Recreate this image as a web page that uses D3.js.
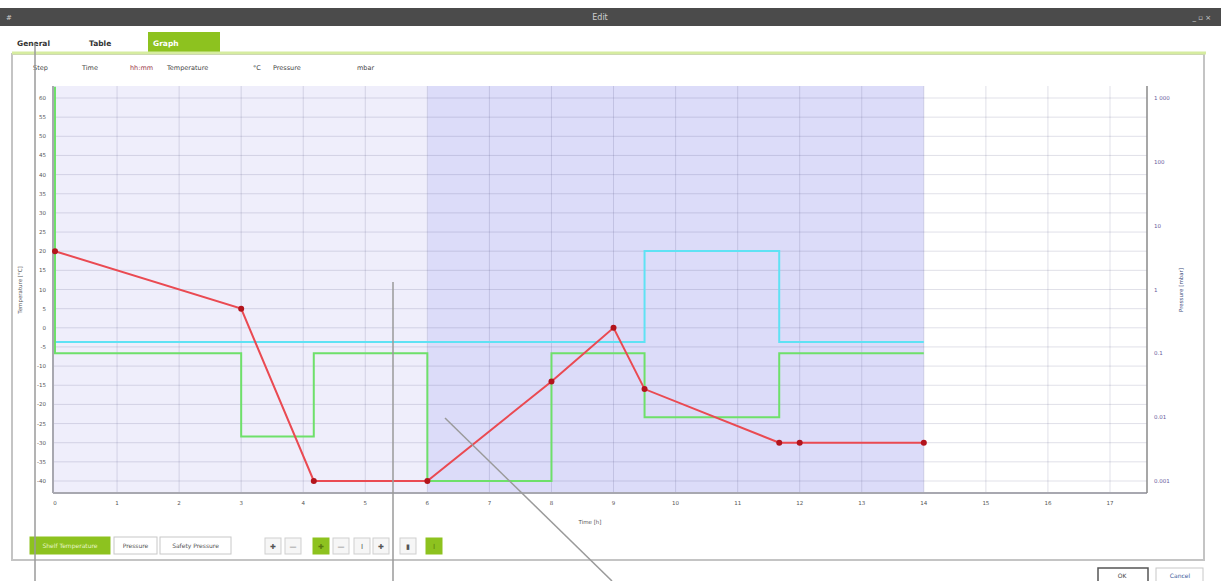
<!DOCTYPE html>
<html lang="en">
	<head>
		<meta charset="utf-8">
		<title>Edit - Graph</title>
		<script src="https://d3js.org/d3.v7.min.js"></script>
		<style type="text/css">
		body { margin: 0; background: #ffffff; }
		text { font-family: "DejaVu Sans", "Liberation Sans", sans-serif; }
		</style>
	</head>
	<body>
		<script type="text/javascript">

			//Tick values
			var hourTicks = [0, 1, 2, 3, 4, 5, 6, 7, 8, 9, 10, 11, 12, 13, 14, 15, 16, 17];
			var tempTicks = [-40, -35, -30, -25, -20, -15, -10, -5, 0, 5, 10, 15, 20, 25, 30, 35, 40, 45, 50, 55, 60];
			var pressTicks = [0.001, 0.01, 0.1, 1, 10, 100, 1000];
			var pressLabels = ["0.001", "0.01", "0.1", "1", "10", "100", "1 000"];

			//Shelf temperature (red, with points)
			var tempTimes = [0, 3, 4.17, 6, 8, 9, 9.5, 11.67, 12, 14];
			var tempValues = [20, 5, -40, -40, -14, 0, -16, -30, -30, -30];

			//Pressure (green step line)
			var pressTimes = [0, 0, 3, 4.17, 6, 8, 9.5, 11.67, 14];
			var pressValues = [1500, 0.1, 0.005, 0.1, 0.001, 0.1, 0.01, 0.1, 0.1];

			//Safety pressure (cyan step line)
			var safetyTimes = [0, 9.5, 11.67, 14];
			var safetyValues = [0.15, 4, 0.15, 0.15];

			//Shaded phases
			var phaseStart = [0, 6];
			var phaseEnd = [6, 14];
			var phaseColors = ["#efeefb", "#dcdcf9"];

			//Header row above the chart
			var headerText = ["Step", "Time", "hh:mm", "Temperature", "°C", "Pressure", "mbar"];
			var headerX = [33, 82, 130, 167, 253, 273, 357];

			var w = 1221;
			var h = 581;

			//Plot frame (window.top is reserved, so own names)
			var plotL = 53, plotR = 1147, plotT = 86, plotB = 493;

			//Scales
			var x = d3.scaleLinear().domain([0, 17]).range([55, 1110]);
			var yT = d3.scaleLinear().domain([-40, 60]).range([481, 98]);
			var yP = d3.scaleLog().domain([0.001, 1000]).range([481, 98]);

			var green = "#8dc21f";
			var labelFill = "#555555";

			var svg = d3.select("body")
						.append("svg")
						.attr("width", w)
						.attr("height", h);

			//Window title bar
			svg.append("rect").attr("x", 0).attr("y", 8).attr("width", w).attr("height", 18).style("fill", "#4b4b4b");
			svg.append("text").attr("x", 600).attr("y", 20).attr("text-anchor", "middle")
				.style("font-size", "8px").style("fill", "#cfcfcf").text("Edit");
			svg.append("text").attr("x", 6).attr("y", 20).style("font-size", "7px").style("fill", "#cfcfcf").text("#");
			svg.append("text").attr("x", 1211).attr("y", 20).attr("text-anchor", "end")
				.style("font-size", "7px").style("fill", "#cfcfcf").text("_ ▫ ×");

			//Tabs
			svg.append("rect").attr("x", 148).attr("y", 32).attr("width", 72).attr("height", 21).style("fill", green);
			svg.append("text").attr("x", 17).attr("y", 46).style("font-size", "7.5px").style("font-weight", "bold").style("fill", "#333").text("General");
			svg.append("text").attr("x", 89).attr("y", 46).style("font-size", "7.5px").style("font-weight", "bold").style("fill", "#333").text("Table");
			svg.append("text").attr("x", 153).attr("y", 46).style("font-size", "7.5px").style("font-weight", "bold").style("fill", "#ffffff").text("Graph");

			//Panel
			svg.append("rect").attr("x", 12).attr("y", 54).attr("width", 1192).attr("height", 506)
				.style("fill", "#ffffff").style("stroke", "#c4c4c4").style("stroke-width", 2);
			svg.append("line").attr("x1", 12).attr("x2", 1206).attr("y1", 53).attr("y2", 53)
				.style("stroke", "#d6eca0").style("stroke-width", 3);

			//Header row
			svg.selectAll("text.header")
			   .data(headerText)
			   .enter()
			   .append("text")
			   .attr("class", "header")
			   .attr("x", function(d, i) { return headerX[i]; })
			   .attr("y", 70)
			   .style("font-size", "6.5px")
			   .style("fill", function(d) { return d == "hh:mm" ? "#9a3a4a" : "#444"; })
			   .text(function(d) { return d; });

			//Phase shading
			svg.selectAll("rect.phase")
			   .data(phaseStart)
			   .enter()
			   .append("rect")
			   .attr("class", "phase")
			   .attr("x", function(d, i) { return i == 0 ? plotL : x(d); })
			   .attr("y", plotT)
			   .attr("width", function(d, i) { return x(phaseEnd[i]) - (i == 0 ? plotL : x(d)); })
			   .attr("height", plotB - plotT)
			   .style("fill", function(d, i) { return phaseColors[i]; });

			//Grid lines
			svg.selectAll("line.hgrid")
			   .data(tempTicks)
			   .enter()
			   .append("line")
			   .attr("class", "hgrid")
			   .attr("x1", plotL).attr("x2", plotR)
			   .attr("y1", function(d) { return yT(d); })
			   .attr("y2", function(d) { return yT(d); })
			   .style("stroke", "rgba(70,70,120,0.17)");

			svg.selectAll("line.vgrid")
			   .data(hourTicks.slice(1))
			   .enter()
			   .append("line")
			   .attr("class", "vgrid")
			   .attr("x1", function(d) { return x(d); })
			   .attr("x2", function(d) { return x(d); })
			   .attr("y1", plotT).attr("y2", plotB)
			   .style("stroke", "rgba(70,70,120,0.17)");

			//Frame
			svg.append("line").attr("x1", plotL).attr("x2", plotL).attr("y1", plotT).attr("y2", plotB)
				.style("stroke", "#a8a8b0").style("stroke-width", 2);
			svg.append("line").attr("x1", plotL).attr("x2", plotR).attr("y1", plotB).attr("y2", plotB)
				.style("stroke", "#a8a8b0").style("stroke-width", 2);
			svg.append("line").attr("x1", plotR).attr("x2", plotR).attr("y1", plotT).attr("y2", plotB)
				.style("stroke", "#8a8a8a").style("stroke-width", 1.5);

			//Left axis labels
			svg.selectAll("text.tlab")
			   .data(tempTicks)
			   .enter()
			   .append("text")
			   .attr("class", "tlab")
			   .attr("x", 46)
			   .attr("y", function(d) { return yT(d) + 2; })
			   .attr("text-anchor", "end")
			   .style("font-size", "5.5px")
			   .style("fill", labelFill)
			   .text(function(d) { return d; });

			//Right axis labels
			svg.selectAll("text.plab")
			   .data(pressTicks)
			   .enter()
			   .append("text")
			   .attr("class", "plab")
			   .attr("x", 1154)
			   .attr("y", function(d) { return yP(d) + 2; })
			   .style("font-size", "5.5px")
			   .style("fill", "#6a5c9c")
			   .text(function(d, i) { return pressLabels[i]; });

			//Bottom axis labels
			svg.selectAll("text.xlab")
			   .data(hourTicks)
			   .enter()
			   .append("text")
			   .attr("class", "xlab")
			   .attr("x", function(d) { return x(d); })
			   .attr("y", 505)
			   .attr("text-anchor", "middle")
			   .style("font-size", "5.5px")
			   .style("fill", labelFill)
			   .text(function(d) { return d; });

			//Axis titles
			svg.append("text").attr("x", 590).attr("y", 524).attr("text-anchor", "middle")
				.style("font-size", "5.5px").style("fill", labelFill).text("Time [h]");
			svg.append("text").attr("transform", "translate(22,290) rotate(-90)").attr("text-anchor", "middle")
				.style("font-size", "5.5px").style("fill", labelFill).text("Temperature [°C]");
			svg.append("text").attr("transform", "translate(1183,290) rotate(-90)").attr("text-anchor", "middle")
				.style("font-size", "5.5px").style("fill", "#3a4a7a").text("Pressure [mbar]");

			//Clip the lines to the plot
			svg.append("clipPath").attr("id", "plotclip")
			   .append("rect").attr("x", plotL).attr("y", plotT).attr("width", plotR - plotL).attr("height", plotB - plotT);

			var pressLine = d3.line()
							  .curve(d3.curveStepAfter)
							  .x(function(d) { return x(pressTimes[d]); })
							  .y(function(d) { return yP(pressValues[d]); });

			var safetyLine = d3.line()
							   .curve(d3.curveStepAfter)
							   .x(function(d) { return x(safetyTimes[d]); })
							   .y(function(d) { return yP(safetyValues[d]); });

			var tempLine = d3.line()
							 .x(function(d) { return x(tempTimes[d]); })
							 .y(function(d) { return yT(tempValues[d]); });

			svg.append("path")
			   .attr("clip-path", "url(#plotclip)")
			   .attr("d", safetyLine(d3.range(safetyTimes.length)))
			   .style("fill", "none").style("stroke", "#5fe2f4").style("stroke-width", 2);

			svg.append("path")
			   .attr("clip-path", "url(#plotclip)")
			   .attr("d", pressLine(d3.range(pressTimes.length)))
			   .style("fill", "none").style("stroke", "#6ee06a").style("stroke-width", 2);

			svg.append("path")
			   .attr("d", tempLine(d3.range(tempTimes.length)))
			   .style("fill", "none").style("stroke", "#ea4a52").style("stroke-width", 2);

			svg.selectAll("circle.pt")
			   .data(d3.range(tempTimes.length))
			   .enter()
			   .append("circle")
			   .attr("class", "pt")
			   .attr("cx", function(d) { return x(tempTimes[d]); })
			   .attr("cy", function(d) { return yT(tempValues[d]); })
			   .attr("r", 3)
			   .style("fill", "#b3141c");

			//Series buttons
			var seriesNames = ["Shelf Temperature", "Pressure", "Safety Pressure"];
			var seriesX = [30, 114, 160];
			var seriesW = [80, 43, 71];

			var btn = svg.selectAll("g.sbtn")
						 .data(seriesNames)
						 .enter()
						 .append("g")
						 .attr("class", "sbtn");

			btn.append("rect")
			   .attr("x", function(d, i) { return seriesX[i]; })
			   .attr("y", 537).attr("width", function(d, i) { return seriesW[i]; }).attr("height", 17)
			   .style("fill", function(d, i) { return i == 0 ? green : "#ffffff"; })
			   .style("stroke", function(d, i) { return i == 0 ? green : "#c8c8c8"; });

			btn.append("text")
			   .attr("x", function(d, i) { return seriesX[i] + seriesW[i] / 2; })
			   .attr("y", 548).attr("text-anchor", "middle")
			   .style("font-size", "6px")
			   .style("fill", function(d, i) { return i == 0 ? "#e8f5c8" : "#555"; })
			   .text(function(d) { return d; });

			//Tool buttons
			var toolX = [265, 285, 313, 333, 354, 373, 400, 426];
			var toolOn = [0, 0, 1, 0, 0, 0, 0, 1];
			var toolGlyph = ["✚", "—", "✚", "—", "I", "✚", "▮", "I"];

			svg.selectAll("rect.tool")
			   .data(toolX)
			   .enter()
			   .append("rect")
			   .attr("class", "tool")
			   .attr("x", function(d) { return d; })
			   .attr("y", 538).attr("width", 16).attr("height", 16)
			   .style("fill", function(d, i) { return toolOn[i] ? green : "#f6f6f6"; })
			   .style("stroke", function(d, i) { return toolOn[i] ? green : "#cfcfcf"; });

			svg.selectAll("text.tool")
			   .data(toolX)
			   .enter()
			   .append("text")
			   .attr("class", "tool")
			   .attr("x", function(d) { return d + 8; })
			   .attr("y", 549).attr("text-anchor", "middle")
			   .style("font-size", "7px")
			   .style("fill", function(d, i) { return toolOn[i] ? "#5a7a10" : "#555"; })
			   .text(function(d, i) { return toolGlyph[i]; });

			//OK / Cancel
			var dlgNames = ["OK", "Cancel"];
			var dlgX = [1098, 1156];
			svg.selectAll("rect.dlg")
			   .data(dlgNames)
			   .enter()
			   .append("rect")
			   .attr("class", "dlg")
			   .attr("x", function(d, i) { return dlgX[i]; })
			   .attr("y", 568).attr("width", function(d, i) { return i == 0 ? 50 : 47; }).attr("height", 16)
			   .style("fill", "#ffffff")
			   .style("stroke", function(d, i) { return i == 0 ? "#555" : "#c8c8c8"; })
			   .style("stroke-width", function(d, i) { return i == 0 ? 1.5 : 1; });
			svg.selectAll("text.dlg")
			   .data(dlgNames)
			   .enter()
			   .append("text")
			   .attr("class", "dlg")
			   .attr("x", function(d, i) { return dlgX[i] + 24; })
			   .attr("y", 578).attr("text-anchor", "middle")
			   .style("font-size", "6px")
			   .style("fill", function(d, i) { return i == 0 ? "#444" : "#3a5a9a"; })
			   .text(function(d) { return d; });

			//Callout lines drawn over the screenshot
			var calloutX1 = [35, 393, 612];
			var calloutY1 = [581, 581, 581];
			var calloutX2 = [35, 393, 445];
			var calloutY2 = [43, 282, 418];
			svg.selectAll("line.callout")
			   .data(calloutX1)
			   .enter()
			   .append("line")
			   .attr("class", "callout")
			   .attr("x1", function(d) { return d; })
			   .attr("y1", function(d, i) { return calloutY1[i]; })
			   .attr("x2", function(d, i) { return calloutX2[i]; })
			   .attr("y2", function(d, i) { return calloutY2[i]; })
			   .style("stroke", "#9a9a9a").style("stroke-width", 1.5);

		</script>
	</body>
</html>
